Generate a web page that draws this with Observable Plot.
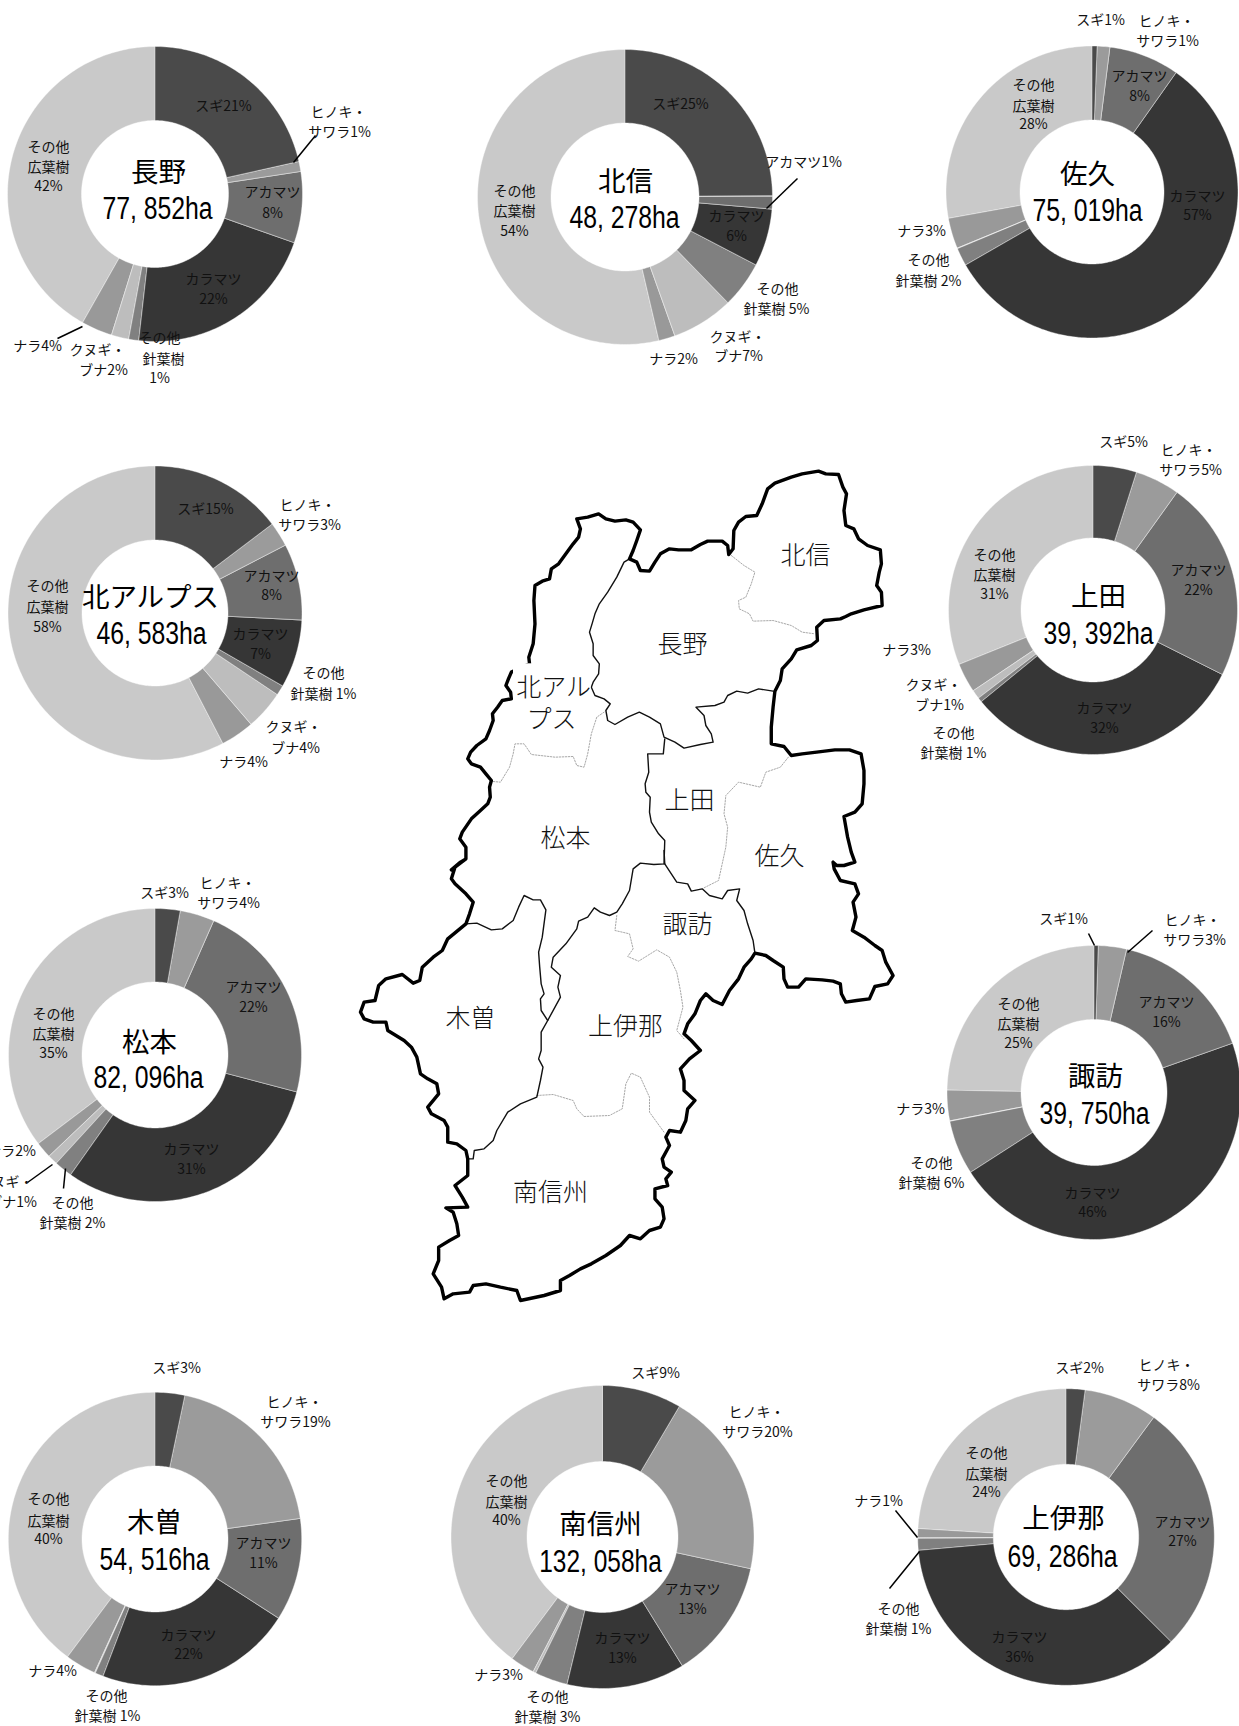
<!DOCTYPE html>
<html lang="ja">
<head>
<meta charset="utf-8">
<title>長野県 地域別 樹種構成</title>
<script src="https://cdn.jsdelivr.net/npm/d3@7"></script>
<script src="https://cdn.jsdelivr.net/npm/@observablehq/plot@0.6"></script>
<style>
  html, body { margin: 0; padding: 0; background: #fff; }
  svg { display: block; }
</style>
</head>
<body>
<div id="chart"></div>
<script>
// ---------- categories ----------
const species = ["スギ", "ヒノキ・サワラ", "アカマツ", "カラマツ", "その他針葉樹", "クヌギ・ブナ", "ナラ", "その他広葉樹"];
const speciesGreys = ["#4a4a4a", "#9b9b9b", "#6e6e6e", "#363636", "#808080", "#bdbdbd", "#999999", "#c9c9c9"];

// ---------- shares (%) in species order ----------
const shareNagano    = [21.5, 1.1, 7.8, 21.4, 1.1, 1.9, 3.4, 41.8];
const shareHokushin  = [24.9, 0.05, 1.4, 6.3, 5.1, 6.8, 1.8, 53.65];
const shareSaku      = [0.6, 1.4, 7.8, 56.9, 2.0, 0.05, 3.4, 27.85];
const shareKitaAlps  = [14.7, 2.7, 8.4, 7.5, 1.1, 4.3, 3.7, 57.6];
const shareUeda      = [4.9, 5.0, 22.5, 31.7, 0.5, 1.0, 3.3, 31.1];
const shareMatsumoto = [2.8, 3.8, 22.5, 30.7, 2.0, 1.1, 1.8, 35.3];
const shareSuwa      = [0.5, 3.1, 16.0, 46.3, 6.0, 0.05, 3.35, 24.7];
const shareKiso      = [3.3, 19.5, 11.3, 21.7, 0.9, 0.1, 3.4, 39.8];
const shareMinami    = [8.5, 19.9, 12.8, 12.6, 3.5, 0.3, 2.6, 39.8];
const shareKamiIna   = [2.1, 8.0, 27.4, 36.1, 1.3, 0.05, 1.0, 24.05];

const districts = ["長野", "北信", "佐久", "北アルプス", "上田", "松本", "諏訪", "木曽", "南信州", "上伊那"];
const areaLabels = ["77, 852ha", "48, 278ha", "75, 019ha", "46, 583ha", "39, 392ha", "82, 096ha", "39, 750ha", "54, 516ha", "132, 058ha", "69, 286ha"];
const shares = [shareNagano, shareHokushin, shareSaku, shareKitaAlps, shareUeda, shareMatsumoto, shareSuwa, shareKiso, shareMinami, shareKamiIna];

// ---------- layout (separate from the values) ----------
// ring centre x, y, outer radius, inner radius; then centre-title x, y and area-text x, y
const ringLayout = [
  [155, 194, 147.5, 73.5, 158, 173, 157, 209],
  [625, 197, 147.5, 74, 625, 182, 624, 218],
  [1092, 192, 146, 72, 1087, 175, 1087, 211],
  [155, 613, 147, 73, 150, 598, 151, 634],
  [1093, 610, 144.5, 72, 1098, 597, 1098, 634],
  [155, 1055, 146.5, 73, 149, 1043, 148, 1078],
  [1094, 1092.5, 147, 73, 1095, 1077, 1094, 1114],
  [155, 1539, 146.7, 73, 154, 1523, 154, 1560],
  [602.5, 1537, 151.5, 75.5, 600, 1525, 600, 1562],
  [1066, 1537, 148.3, 72.7, 1063, 1519, 1062, 1557]
];

// slice labels: text line, x, y
const sliceLabels = [
  ["スギ21%",223,106],["ヒノキ・",338,112],["サワラ1%",339,132],["アカマツ",272,192],["8%",272,213],["カラマツ",213,279],["22%",213,299],
  ["その他",48,147],["広葉樹",48,167],["42%",48,186],["その他",159,338],["針葉樹",163,359],["1%",159,378],["ナラ4%",37,346],["クヌギ・",97,350],["ブナ2%",103,370],

  ["スギ25%",680,104],["アカマツ1%",803,162],["カラマツ",736,216],["6%",736,236],["その他",777,289],["針葉樹 5%",776,309],["クヌギ・",737,337],["ブナ7%",738,356],
  ["ナラ2%",673,359],["その他",514,191],["広葉樹",514,211],["54%",514,231],

  ["スギ1%",1100,20],["ヒノキ・",1166,21],["サワラ1%",1167,41],["アカマツ",1139,76],["8%",1139,96],["カラマツ",1197,196],["57%",1197,215],
  ["その他",1033,85],["広葉樹",1033,106],["28%",1033,124],["ナラ3%",921,231],["その他",928,260],["針葉樹 2%",928,281],

  ["スギ15%",205,509],["ヒノキ・",307,505],["サワラ3%",309,525],["アカマツ",271,576],["8%",271,595],["カラマツ",260,634],["7%",260,654],
  ["その他",323,673],["針葉樹 1%",323,694],["クヌギ・",293,727],["ブナ4%",295,748],["ナラ4%",243,762],["その他",47,586],["広葉樹",47,607],["58%",47,627],

  ["スギ5%",1123,442],["ヒノキ・",1188,450],["サワラ5%",1190,470],["アカマツ",1198,570],["22%",1198,590],["カラマツ",1104,708],["32%",1104,728],
  ["その他",994,555],["広葉樹",994,575],["31%",994,594],["ナラ3%",906,650],["クヌギ・",933,685],["ブナ1%",939,705],["その他",953,733],["針葉樹 1%",953,753],

  ["スギ3%",164,893],["ヒノキ・",227,883],["サワラ4%",228,903],["アカマツ",253,987],["22%",253,1007],["カラマツ",191,1149],["31%",191,1169],
  ["その他",53,1014],["広葉樹",53,1034],["35%",53,1053],["ナラ2%",11,1151],["クヌギ・",5,1182],["ブナ1%",12,1202],["その他",72,1203],["針葉樹 2%",72,1223],

  ["スギ1%",1063,919],["ヒノキ・",1192,920],["サワラ3%",1194,940],["アカマツ",1166,1002],["16%",1166,1022],["カラマツ",1092,1193],["46%",1092,1212],
  ["その他",1018,1004],["広葉樹",1018,1024],["25%",1018,1043],["ナラ3%",920,1109],["その他",931,1163],["針葉樹 6%",931,1183],

  ["スギ3%",176,1368],["ヒノキ・",294,1402],["サワラ19%",295,1422],["アカマツ",263,1543],["11%",263,1563],["カラマツ",188,1635],["22%",188,1654],
  ["その他",48,1499],["広葉樹",48,1521],["40%",48,1539],["ナラ4%",52,1671],["その他",106,1696],["針葉樹 1%",107,1716],

  ["スギ9%",655,1373],["ヒノキ・",756,1412],["サワラ20%",757,1432],["アカマツ",692,1589],["13%",692,1609],["カラマツ",622,1638],["13%",622,1658],
  ["その他",506,1481],["広葉樹",506,1502],["40%",506,1520],["ナラ3%",498,1675],["その他",547,1697],["針葉樹 3%",547,1717],

  ["スギ2%",1079,1368],["ヒノキ・",1166,1365],["サワラ8%",1168,1385],["アカマツ",1182,1522],["27%",1182,1541],["カラマツ",1019,1637],["36%",1019,1657],
  ["その他",986,1453],["広葉樹",986,1474],["24%",986,1492],["ナラ1%",878,1501],["その他",898,1609],["針葉樹 1%",898,1629]
];

// leader lines: x1, y1, x2, y2
const leaders = [
  [293,162,315,135],[82,326,57,338],[766,208,797,178],
  [1094,945,1088,933],[1127,952,1152,930],
  [52,1164,27,1182],[65,1168,63,1188],
  [917,1537,895,1510],[919,1551,889,1588]
];

// ---------- map: traced boundaries, in two traced sheets ----------
const westAndNorthBorder = [[305,1258],[330,1235],[345,1225],[345,1190],[328,1165],[335,1145],[360,1105],[385,1080],[405,1060],[412,1040],[410,1010],[415,990],[400,970],[385,950],[360,940],[350,925],[358,905],[375,885],[400,865],[410,840],[420,810],[418,790],[432,770],[445,750],[470,745],[468,725],[455,705],[462,685],[470,665],[520,640],[518,620],[530,580],[535,520],[532,450],[535,405],[555,392],[575,385],[580,355],[600,340],[620,310],[640,280],[655,260],[660,235],[650,205],[680,200],[710,190],[730,205],[755,212],[785,208],[805,215],[825,238],[815,270],[805,300],[795,325],[815,335],[825,360],[850,362],[865,335],[880,310],[905,295],[930,298],[965,298],[990,282],[1010,272],[1050,272],[1065,285],[1068,312],[1080,295],[1082,240],[1095,215],[1115,198],[1145,195],[1160,160],[1175,115],[1195,98],[1240,80],[1270,70],[1315,62],[1335,70],[1370,72],[1382,110],[1392,130],[1385,180],[1390,225],[1412,235],[1425,265],[1450,285],[1485,298],[1488,340],[1482,365],[1475,405],[1488,425],[1490,465],[1440,478],[1405,490],[1390,498],[1375,505],[1330,510],[1310,530],[1312,570],[1295,585],[1255,598],[1240,625],[1215,655],[1210,690],[1195,722],[1190,770],[1185,830],[1185,880],[1220,888],[1240,915],[1270,910],[1310,905],[1360,898],[1400,898],[1432,910],[1440,960],[1440,1000],[1435,1060],[1415,1085],[1385,1098],[1395,1160],[1405,1205],[1415,1235],[1385,1245],[1365,1245],[1355,1235]];
const eastAndSouthBorder = [[1355,35],[1358,55],[1375,90],[1415,100],[1425,130],[1410,155],[1418,200],[1408,240],[1440,260],[1470,285],[1490,300],[1500,335],[1520,375],[1505,400],[1470,408],[1455,445],[1420,450],[1390,455],[1378,430],[1375,400],[1355,392],[1325,388],[1280,385],[1260,410],[1230,410],[1220,385],[1218,350],[1190,330],[1170,315],[1140,308],[1130,325],[1110,350],[1095,385],[1070,420],[1050,462],[1025,450],[1005,430],[990,450],[975,490],[955,520],[945,550],[965,570],[990,600],[960,625],[935,655],[945,690],[945,720],[975,750],[955,775],[950,810],[935,845],[905,840],[895,860],[905,885],[885,925],[890,950],[910,965],[895,985],[900,1005],[865,1015],[865,1045],[885,1070],[890,1105],[880,1130],[850,1140],[825,1165],[795,1155],[770,1185],[730,1215],[690,1240],[660,1255],[630,1275],[605,1290],[605,1320],[560,1335],[495,1350],[485,1320],[440,1310],[400,1300],[365,1305],[355,1325],[310,1330],[285,1345],[278,1310],[255,1270],[270,1230],[270,1190],[300,1170],[325,1155],[320,1120],[310,1085],[290,1072],[350,1070],[335,1040],[315,1005],[350,975],[350,925],[345,900],[320,880],[295,875],[295,830],[285,810],[250,790],[240,770],[270,730],[265,700],[240,685],[220,670],[210,620],[195,590],[175,570],[130,540],[125,515],[90,515],[65,505],[55,485],[65,455],[95,450],[105,405],[125,385],[170,372],[200,398],[218,390],[225,350],[255,320],[280,300],[295,265],[345,220],[355,190],[365,155],[345,130],[315,100],[305,85],[315,50],[345,25],[345,0]];
const alpsNaganoBorder = [[795,325],[780,335],[760,380],[735,425],[712,460],[700,490],[692,520],[685,545],[695,580],[695,615],[712,640],[710,670],[695,695],[690,710],[700,735],[725,745],[742,760],[730,780],[735,810],[755,822],[790,800],[822,785],[850,800],[880,820],[890,860],[920,875],[945,893],[990,882],[1025,875],[1020,850],[1005,825],[1000,795],[978,770],[1030,765],[1055,755],[1065,735],[1090,722],[1120,728],[1150,715],[1190,722]];
const uedaMatsumotoBorder = [[892,865],[888,910],[845,910],[848,965],[838,1000],[840,1025],[852,1040],[850,1085],[855,1115],[875,1150],[892,1170],[890,1240]];
const suwaWestBorder = [[890,0],[892,40],[862,42],[825,38],[805,55],[795,120],[775,160],[760,185],[740,195],[715,185],[698,172],[680,200],[655,212],[650,235],[620,280],[585,320],[580,350],[605,375],[598,410],[605,440],[570,510]];
const sakuSuwaBorder = [[892,40],[925,95],[955,100],[965,122],[995,115],[1015,135],[1050,145],[1065,120],[1098,115],[1090,150],[1110,180],[1120,220],[1135,270],[1140,308]];
const kisoEastBorder = [[345,220],[375,218],[415,238],[445,235],[475,210],[490,170],[505,135],[530,148],[550,148],[565,178],[555,260],[545,305],[548,350],[552,400],[560,430],[550,445],[552,480],[570,510],[552,545],[552,600],[545,625],[557,650],[550,690],[540,740],[495,760],[460,785],[430,840],[420,870],[395,895],[368,900],[365,925],[350,925]];

const naganoHokushinDots = [[1075,315],[1110,345],[1140,365],[1130,400],[1115,440],[1095,450],[1097,475],[1125,490],[1135,512],[1190,510],[1240,525],[1270,545],[1305,550]];
const alpsMatsumotoDots = [[420,993],[440,995],[465,950],[475,910],[480,880],[505,880],[525,912],[590,920],[640,918],[650,945],[670,950],[680,910],[685,880],[690,850],[705,800],[725,785]];
const uedaSakuDots = [[1232,920],[1210,950],[1170,965],[1155,1010],[1095,995],[1060,1035],[1055,1090],[1065,1130],[1060,1190],[1050,1240],[1040,1290],[1000,1312]];
const suwaInaDots = [[760,195],[755,240],[795,250],[805,295],[790,318],[820,332],[870,298],[905,320],[925,365],[935,420],[942,470],[925,540],[945,565]];
const inaMinamiDots = [[540,735],[585,732],[640,750],[650,775],[670,798],[740,795],[775,775],[785,700],[800,668],[825,680],[850,740],[850,785],[890,845]];

const mapNames = [["北信",805,555],["長野",682,644],["北アル",553,687],["プス",551,719],["上田",689,800],["松本",565,838],["佐久",779,856],["諏訪",687,924],["上伊那",625,1026],["木曽",470,1018],["南信州",550,1192]];

// ---------- derive mark data ----------
const sheetScaleX = 1568 / 570;
const sheetA = pts => pts.map(([x, y]) => [340 + x / sheetScaleX, 450 + y / 3]);
const sheetB = pts => pts.map(([x, y]) => [340 + x / sheetScaleX, 850 + y / 3]);
const series = (name, pts) => pts.map(([x, y]) => ({name, x, y}));

const thick = series("outer", [...sheetA(westAndNorthBorder), ...sheetB(eastAndSouthBorder)]);
const thin = [
  ...series("a", sheetA(alpsNaganoBorder)),
  ...series("b", sheetA(uedaMatsumotoBorder)),
  ...series("c", sheetB(suwaWestBorder)),
  ...series("d", sheetB(sakuSuwaBorder)),
  ...series("e", sheetB(kisoEastBorder))
];
const dots = [
  ...series("a", sheetA(naganoHokushinDots)),
  ...series("b", sheetA(alpsMatsumotoDots)),
  ...series("c", sheetA(uedaSakuDots)),
  ...series("d", sheetB(suwaInaDots)),
  ...series("e", sheetB(inaMinamiDots))
];

// ring sectors as outer/inner arc samples, from the shares
const sectorPoints = districts.flatMap((district, i) => {
  const [cx, cy, R, r] = ringLayout[i];
  const total = d3.sum(shares[i]);
  let start = 0;
  return species.flatMap((sp, j) => {
    const a0 = start / total * 2 * Math.PI;
    start += shares[i][j];
    const a1 = start / total * 2 * Math.PI;
    const n = Math.max(2, Math.ceil((a1 - a0) / 0.02));
    return d3.range(n + 1).map(k => {
      const a = a0 + (a1 - a0) * k / n;
      return {
        key: district + sp, species: sp,
        ox: cx + R * Math.sin(a), oy: cy - R * Math.cos(a),
        ix: cx + r * Math.sin(a), iy: cy - r * Math.cos(a)
      };
    });
  });
});

const titles = districts.map((t, i) => ({t, x: ringLayout[i][4], y: ringLayout[i][5]}));
const areas = areaLabels.map((t, i) => ({t, x: ringLayout[i][6], y: ringLayout[i][7]}));

const jp = '"Noto Sans CJK JP", "Noto Sans", sans-serif';
const latin = '"Liberation Sans", sans-serif';

const plot = Plot.plot({
  width: 1239,
  height: 1726,
  margin: 0,
  x: {domain: [0, 1239], range: [0, 1239], axis: null},
  y: {domain: [0, 1726], range: [0, 1726], axis: null},
  color: {type: "ordinal", domain: species, range: speciesGreys},
  style: {background: "#fff"},
  marks: [
    Plot.area(sectorPoints, {
      x1: "ox", y1: "oy", x2: "ix", y2: "iy", z: "key",
      fill: "species", stroke: "#fff", strokeWidth: 0.4
    }),
    Plot.line(dots, {x: "x", y: "y", z: "name", stroke: "#a8a8a8", strokeWidth: 1, strokeDasharray: "1.5 1.5"}),
    Plot.line(thin, {x: "x", y: "y", z: "name", stroke: "#111", strokeWidth: 1.4}),
    Plot.line(thick, {x: "x", y: "y", z: "name", stroke: "#000", strokeWidth: 3.4}),
    Plot.rect([{x1: 513, x2: 590.5, y1: 663.3, y2: 730}], {x1: "x1", x2: "x2", y1: "y1", y2: "y2", fill: "#fff"}),
    Plot.link(leaders, {x1: d => d[0], y1: d => d[1], x2: d => d[2], y2: d => d[3], stroke: "#000", strokeWidth: 1.5}),
    Plot.text(mapNames, {x: d => d[1], y: d => d[2], text: d => d[0], fontSize: 25, fontFamily: jp, fontWeight: 300, fill: "#111"}),
    Plot.text(sliceLabels, {x: d => d[1], y: d => d[2], text: d => d[0], fontSize: 14, fontFamily: jp, fill: "#111"}),
    Plot.text(titles, {x: "x", y: "y", text: "t", fontSize: 27.5, fontFamily: jp, fill: "#000"}),
    Plot.text(areas, {x: "x", y: "y", text: "t", fontSize: 31, fontFamily: latin, fill: "#000", className: "area-label"})
  ]
});
// the reference sets the area figures in a condensed face: compress glyphs to its widths
d3.select(plot).selectAll(".area-label text")
  .attr("lengthAdjust", "spacingAndGlyphs")
  .attr("textLength", function () { return this.textContent.length * 12.25; });
document.getElementById("chart").append(plot);
</script>
</body>
</html>
